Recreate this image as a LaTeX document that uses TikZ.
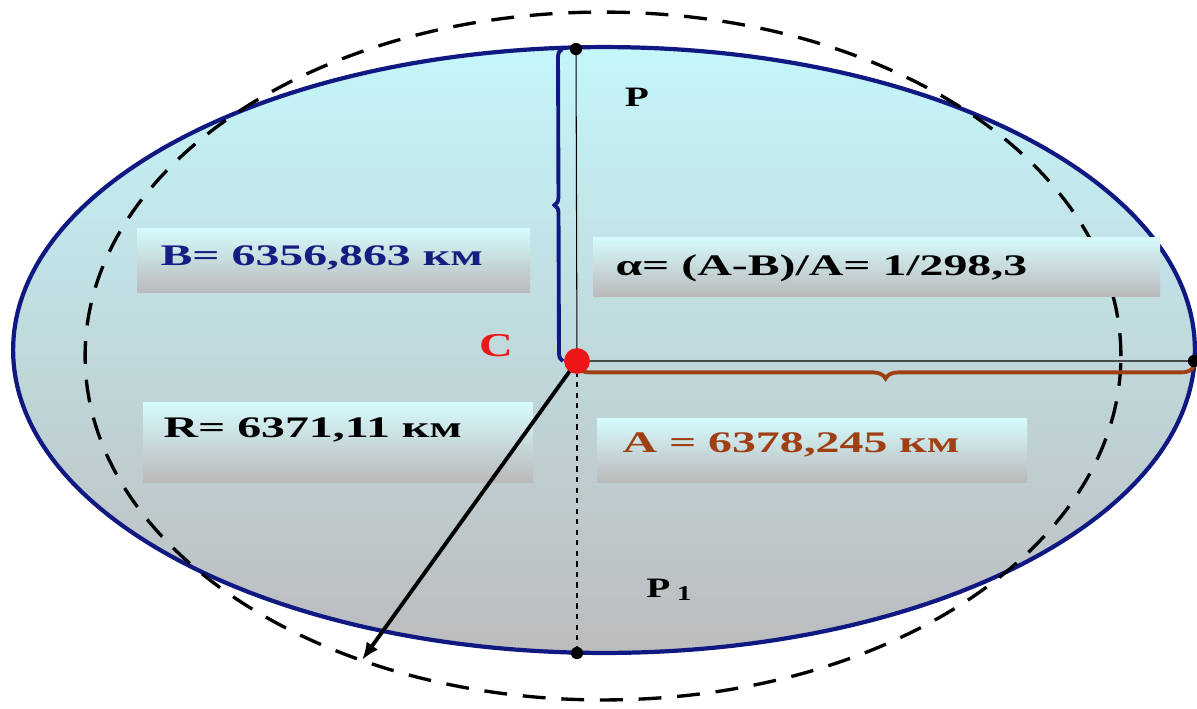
\documentclass[tikz,border=0pt]{standalone}
\usepackage{fontspec}
\setmainfont{Liberation Serif}
\usetikzlibrary{arrows.meta,decorations.pathreplacing}
\definecolor{earthline}{RGB}{16,24,130}
\definecolor{earthtop}{RGB}{196,246,250}
\definecolor{earthbot}{RGB}{188,188,190}
\definecolor{paneltop}{RGB}{214,251,253}
\definecolor{panelbot}{RGB}{186,186,188}
\definecolor{navytext}{RGB}{20,30,130}
\definecolor{rust}{RGB}{160,62,20}
\definecolor{cred}{RGB}{236,22,22}
\begin{document}
\begin{tikzpicture}[x=0.02cm,y=-0.02cm,
	panel/.style={top color=paneltop,bottom color=panelbot},
	value/.style={anchor=west,inner sep=0pt,font=\bfseries\fontsize{17}{20}\selectfont,xscale=1.6,transform shape},
	letter/.style={inner sep=0pt,font=\bfseries\fontsize{#1}{#1}\selectfont,xscale=1.4,transform shape},
	curly/.style={decorate,line width=2.2pt}]
	\useasboundingbox (0,0) rectangle (1197,708);
	\coordinate (C) at (577,361);
	\coordinate (Ptop) at (576,49);
	\coordinate (Pbot) at (577,653);
	\coordinate (Aend) at (1194,361);
	\coordinate (Rend) at (362,660);
	\shadedraw[top color=earthtop,bottom color=earthbot,draw=earthline,line width=2.4pt] (604,350) ellipse (11.82cm and 6.06cm);
	\draw[line width=1.9pt,dash pattern=on 13pt off 9pt] (603,356) ellipse (10.36cm and 6.88cm);
	\shade[panel] (137,228) rectangle (530,292);
	\shade[panel] (593,237) rectangle (1160,296);
	\shade[panel] (143,402) rectangle (533,482);
	\shade[panel] (597,418) rectangle (1027,482);
	\draw[line width=0.6pt] (Ptop) -- (C) -- (Aend);
	\draw[dashed,line width=0.7pt] (C) -- (Pbot);
	\draw[curly,earthline,decoration={brace,amplitude=4.5pt,raise=8pt}] (C) -- (Ptop);
	\draw[curly,rust,decoration={brace,mirror,amplitude=7pt,raise=3pt}] (C) -- (Aend);
	\draw[line width=2.2pt,-{Latex[length=10pt,width=8pt]}] (C) -- (Rend);
	\foreach \p in {Ptop,Aend,Pbot} \fill (\p) circle (3.5pt);
	\node[circle,fill=cred,minimum size=14.7pt,inner sep=0pt] (Cdot) at (C) {};
	\node[value,text=navytext] (Bval) at (160,258) {B= 6356,863 км};
	\node[value] (ratio) at (615,268) {α= (A-B)/A= 1/298,3};
	\node[value] (Rval) at (163,430) {R= 6371,11 км};
	\node[value,text=rust] (Aval) at (622,445) {A = 6378,245 км};
	\node[letter=16] (Plbl) at (637,97) {P};
	\node[letter=19,text=cred] (Clbl) at (496,346) {C};
	\node[letter=16] (P1lbl) at (669,590) {P\,\raisebox{-2pt}{\fontsize{12}{12}\selectfont 1}};
\end{tikzpicture}
\end{document}
